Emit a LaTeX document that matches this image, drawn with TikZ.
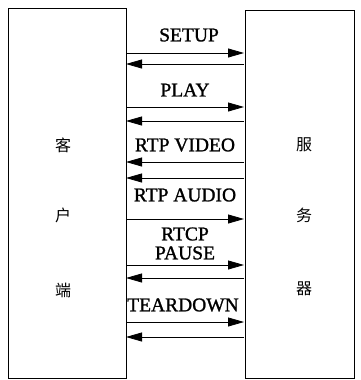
\documentclass[tikz,border=0pt]{standalone}
\usepackage{fontspec}
\setmainfont{Liberation Serif}
\newfontfamily\lblfont{Liberation Serif}[FakeBold=1.2]
\newfontfamily\cjk{Noto Sans CJK SC}
\usetikzlibrary{arrows.meta}
\begin{document}
\begin{tikzpicture}[x=1pt,y=-1pt,
  box/.style={draw,line width=0.8pt},
  msg/.style={line width=0.8pt,-{Triangle[length=16pt,width=9pt]}},
  lbl/.style={font=\lblfont\fontsize{19.5}{21}\selectfont},
  zh/.style={font=\cjk\fontsize{16}{17}\selectfont}]
\useasboundingbox (0,0) rectangle (360,380);
\draw[box] (8,8) rectangle (126,378);
\draw[box] (245,10) rectangle (354,378);
\coordinate (L) at (126,0);
\coordinate (R) at (244,0);
\node[zh] (c1) at (63,145) {客};
\node[zh] (c2) at (63,215) {户};
\node[zh] (c3) at (63,290) {端};
\node[zh] (s1) at (304,145) {服};
\node[zh] (s2) at (304,215) {务};
\node[zh] (s3) at (304,289) {器};
\node[lbl] (t1) at (189,35) {SETUP};
\node[lbl] (t2) at (185,90) {PLAY};
\node[lbl] (t3) at (185,145) {RTP VIDEO};
\node[lbl] (t4) at (185,195) {RTP AUDIO};
\node[lbl] (t5) at (185,234) {RTCP};
\node[lbl] (t6) at (185,253) {PAUSE};
\node[lbl] (t7) at (183,305) {TEARDOWN};
\foreach \y in {53,107,219,265,322} \draw[msg] (L|-0,\y) -- (R|-0,\y);
\foreach \y in {64,121,162,178,278,337} \draw[msg] (R|-0,\y) -- (L|-0,\y);
\end{tikzpicture}
\end{document}
